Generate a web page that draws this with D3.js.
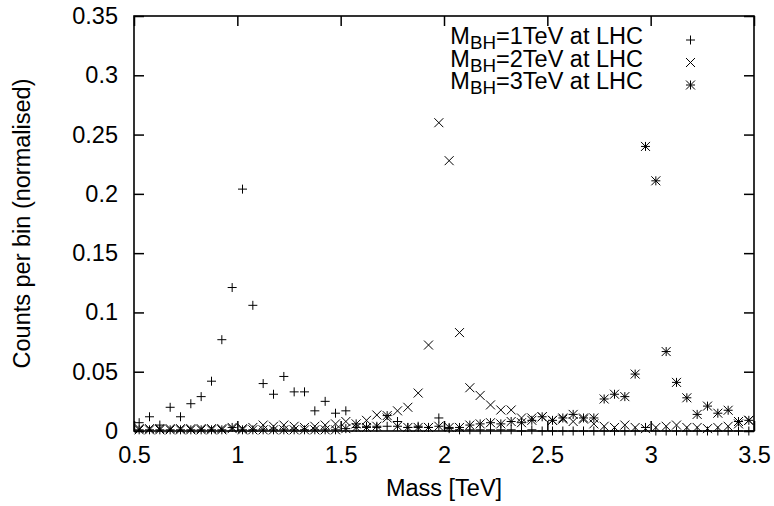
<!DOCTYPE html>
<html>
<head>
<meta charset="utf-8">
<script src="https://cdn.jsdelivr.net/npm/d3@7"></script>
<style>
  html, body { margin: 0; padding: 0; background: #fff; }
  svg text { font-family: "Liberation Sans", Arial, sans-serif; fill: #000; }
</style>
</head>
<body>
<svg id="chart" width="774" height="506"></svg>
<script>
// Bin centres (TeV)
const massBins = [0.525,0.575,0.625,0.675,0.725,0.775,0.825,0.875,0.925,0.975,
  1.025,1.075,1.125,1.175,1.225,1.275,1.325,1.375,1.425,1.475,
  1.525,1.575,1.625,1.675,1.725,1.775,1.825,1.875,1.925,1.975,
  2.025,2.075,2.125,2.175,2.225,2.275,2.325,2.375,2.425,2.475,
  2.525,2.575,2.625,2.675,2.725,2.775,2.825,2.875,2.925,2.975,
  3.025,3.075,3.125,3.175,3.225,3.275,3.325,3.375,3.425,3.475];

const counts1TeV = [0.007,0.012,0.005,0.020,0.012,0.023,0.029,0.042,0.077,0.121,
  0.204,0.106,0.040,0.031,0.046,0.033,0.033,0.017,0.025,0.015,
  0.017,0.006,0.004,0.003,0.004,0.008,0.003,0.004,0.003,0.011,
  0.002,0.001,0.001,0.001,0.001,0.001,0.001,0.000,0.001,0.000,
  0.000,0.000,0.000,0.000,0.000,0.000,0.000,0.000,0.000,0.003,
  0.000,0.000,0.000,0.000,0.000,0.000,0.000,0.000,0.000,0.000];

const counts2TeV = [0.002,0.002,0.002,0.002,0.002,0.002,0.002,0.002,0.002,0.002,
  0.002,0.003,0.005,0.004,0.005,0.004,0.003,0.004,0.005,0.006,
  0.008,0.006,0.009,0.0135,0.011,0.017,0.020,0.032,0.0725,0.260,
  0.228,0.083,0.0365,0.030,0.022,0.0177,0.0177,0.011,0.011,0.012,
  0.009,0.010,0.008,0.010,0.006,0.004,0.003,0.005,0.003,0.002,
  0.003,0.004,0.005,0.003,0.003,0.002,0.003,0.004,0.006,0.009];

const counts3TeV = [0.001,0.001,0.001,0.001,0.001,0.001,0.001,0.001,0.001,0.003,
  0.001,0.001,0.001,0.001,0.001,0.001,0.001,0.001,0.001,0.001,
  0.002,0.003,0.003,0.004,0.013,0.004,0.003,0.003,0.003,0.004,
  0.003,0.003,0.005,0.006,0.007,0.006,0.008,0.007,0.009,0.012,
  0.009,0.011,0.014,0.011,0.011,0.027,0.031,0.029,0.048,0.240,
  0.211,0.067,0.041,0.028,0.014,0.021,0.015,0.0175,0.008,0.009];

const seriesNames = ["1TeV", "2TeV", "3TeV"];
const seriesMarkers = ["plus", "cross", "star"];
const xTicks = [0.5, 1, 1.5, 2, 2.5, 3, 3.5];
const yTicks = [0, 0.05, 0.1, 0.15, 0.2, 0.25, 0.3, 0.35];

const series = [counts1TeV, counts2TeV, counts3TeV].map((vals, k) => ({
  name: seriesNames[k],
  marker: seriesMarkers[k],
  points: massBins.map((m, i) => ({ x: m, y: vals[i] }))
}));

const svg = d3.select("#chart");
const pL = 134, pR = 754, pT = 16, pB = 431;
const x = d3.scaleLinear().domain([0.5, 3.5]).range([pL, pR]);
const y = d3.scaleLinear().domain([0, 0.35]).range([pB, pT]);
const FS = 23.5;
const TL = 10;
const S = 4.5;

function markerPath(type) {
  const p = d3.path();
  if (type === "plus" || type === "star") {
    p.moveTo(-S, 0); p.lineTo(S, 0);
    p.moveTo(0, -S); p.lineTo(0, S);
  }
  if (type === "cross" || type === "star") {
    p.moveTo(-S, -S); p.lineTo(S, S);
    p.moveTo(-S, S); p.lineTo(S, -S);
  }
  return p.toString();
}

const axB = d3.axisBottom(x).tickValues(xTicks).tickSize(-TL).tickFormat(d3.format("~g")).tickPadding(15);
const axT = d3.axisTop(x).tickValues(xTicks).tickSize(-TL).tickFormat("");
const axL = d3.axisLeft(y).tickValues(yTicks).tickSize(-TL).tickFormat(d3.format("~g")).tickPadding(16);
const axR = d3.axisRight(y).tickValues(yTicks).tickSize(-TL).tickFormat("");

function styleAxis(g) {
  g.select(".domain").remove();
  g.selectAll(".tick line").attr("stroke", "#000").attr("stroke-width", 1.5);
  g.selectAll(".tick text").attr("font-size", FS).attr("font-family", "Liberation Sans, Arial, sans-serif").attr("fill", "#000");
}
svg.append("g").attr("transform", `translate(0,${pB})`).call(axB).call(styleAxis);
svg.append("g").attr("transform", `translate(0,${pT})`).call(axT).call(styleAxis);
svg.append("g").attr("transform", `translate(${pL},0)`).call(axL).call(styleAxis);
svg.append("g").attr("transform", `translate(${pR},0)`).call(axR).call(styleAxis);

series.forEach(s => {
  svg.append("g").selectAll("path")
    .data(s.points)
    .join("path")
    .attr("d", markerPath(s.marker))
    .attr("transform", d => `translate(${x(d.x)},${y(d.y)})`)
    .attr("fill", "none")
    .attr("stroke", "#000")
    .attr("stroke-width", 1);
});

svg.append("rect")
  .attr("x", pL).attr("y", pT)
  .attr("width", pR - pL).attr("height", pB - pT)
  .attr("fill", "none").attr("stroke", "#000").attr("stroke-width", 1.6);

svg.append("text")
  .attr("x", (pL + pR) / 2).attr("y", 496)
  .attr("text-anchor", "middle").attr("font-size", FS)
  .text("Mass [TeV]");
svg.append("text")
  .attr("transform", `translate(30,${(pT + pB) / 2}) rotate(-90)`)
  .attr("text-anchor", "middle").attr("font-size", FS)
  .text("Counts per bin (normalised)");

const legendRows = [44, 66.5, 89];
series.forEach((s, k) => {
  const t = svg.append("text")
    .attr("x", 643).attr("y", legendRows[k])
    .attr("text-anchor", "end").attr("font-size", FS);
  t.append("tspan").text("M");
  t.append("tspan").attr("dy", 5).attr("font-size", FS * 0.8).text("BH");
  t.append("tspan").attr("dy", -5).text("=" + s.name + " at LHC");
  svg.append("path")
    .attr("d", markerPath(s.marker))
    .attr("transform", `translate(690.5,${legendRows[k] - 4})`)
    .attr("fill", "none").attr("stroke", "#000").attr("stroke-width", 1);
});
</script>
</body>
</html>
